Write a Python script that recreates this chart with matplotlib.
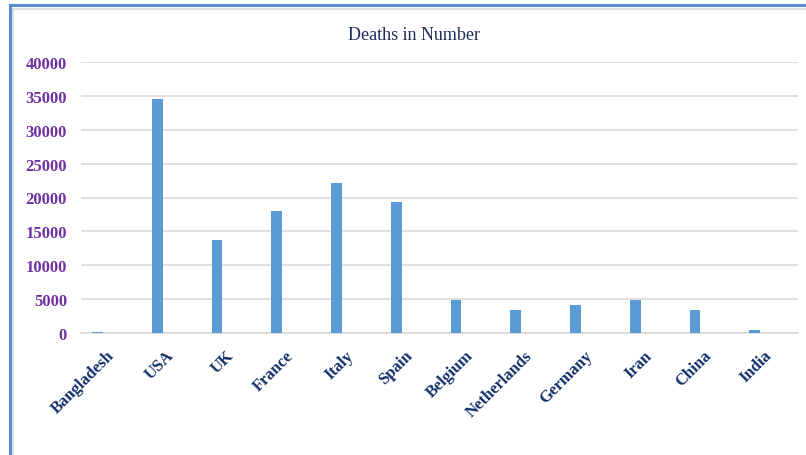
import matplotlib
matplotlib.use("Agg")
import matplotlib.pyplot as plt
from matplotlib.lines import Line2D
from matplotlib.transforms import ScaledTranslation

countries = ["Bangladesh", "USA", "UK", "France", "Italy", "Spain", "Belgium",
             "Netherlands", "Germany", "Iran", "China", "India"]
deaths = [200, 34600, 13750, 18000, 22200, 19300, 4900, 3450, 4200, 4900, 3450, 500]
yticks = [0, 5000, 10000, 15000, 20000, 25000, 30000, 35000, 40000]

W, H = 806, 456
fig = plt.figure(figsize=(W / 100, H / 100), dpi=100)
fig.patch.set_facecolor("white")

def fx(px):
    return px / W

def fy(py):
    return 1 - py / H

ax = fig.add_axes([fx(81), fy(334), fx(798) - fx(81), fy(63) - fy(334)])
x = list(range(len(countries)))
# bar sits left of its category centre (clustered layout, one visible series)
bar_shift = -0.225
ax.bar([i + bar_shift for i in x], deaths, width=0.18, color="#5B9BD5", zorder=3)
ax.set_xlim(-0.5, len(countries) - 0.5)
ax.set_ylim(0, 40000)
ax.set_yticks(yticks)
ax.set_yticklabels([str(v) for v in yticks], fontfamily="Liberation Serif",
                   fontweight="bold", fontsize=12, color="#7030A0")
ax.tick_params(axis="y", length=0, pad=10)
ax.tick_params(axis="x", length=0, pad=2)
ax.set_xticks(x)
ax.set_xticklabels(countries, rotation=45, ha="right", va="center",
                   rotation_mode="anchor", fontfamily="Liberation Serif",
                   fontweight="bold", fontsize=12, color="#122F6A")
offset = ScaledTranslation(1 / 100, -17 / 100, fig.dpi_scale_trans)
for lbl in ax.get_xticklabels():
    lbl.set_transform(lbl.get_transform() + offset)
ax.grid(axis="y", color="#D9D9D9", linewidth=1.2, zorder=0)
for s in ["top", "right", "left"]:
    ax.spines[s].set_visible(False)
ax.spines["bottom"].set_color("#D9D9D9")
ax.spines["bottom"].set_linewidth(1.2)
ax.set_facecolor("none")

fig.text(fx(414), fy(35), "Deaths in Number", ha="center", va="center",
         fontfamily="Liberation Serif", fontsize=13, color="#1F2A5C")

# chart frame borders
fig.add_artist(Line2D([fx(10), fx(10)], [fy(6), 0], color="#5B8BD0", linewidth=2.2))
fig.add_artist(Line2D([fx(10), 1], [fy(6), fy(6)], color="#5B8BD0", linewidth=2.2))
fig.add_artist(Line2D([fx(13.5), fx(13.5)], [fy(10), 0], color="#D9D9D9", linewidth=1.2))
fig.add_artist(Line2D([fx(13.5), 1], [fy(10), fy(10)], color="#D9D9D9", linewidth=1.2))

fig.savefig("out.png", dpi=100)
